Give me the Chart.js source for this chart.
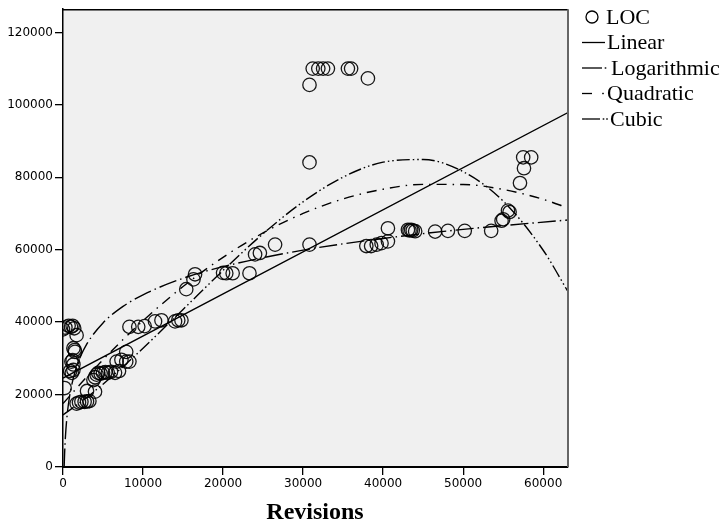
<!DOCTYPE html>
<html lang="en">
<head>
    <meta charset="UTF-8">
    <title>LOC vs Revisions</title>
    <style>
        html, body { margin: 0; padding: 0; background: #fff; }
        #wrap { width: 720px; height: 526px; }
    </style>
</head>
<body>
    <div id="wrap"><canvas id="myChart" width="720" height="526"></canvas></div>

    <script src="https://cdn.jsdelivr.net/npm/chart.js"></script>
    <script>
        // observed points (Revisions, LOC)
        const revisions = [0, 300, 700, 1000, 1200, 1400, 1700, 1300, 1450, 1500, 1050, 1300, 1200, 900, 1100, 1300, 200,
            1700, 2000, 2300, 2700, 3000, 3300, 3000, 4000,
            3800, 4000, 4200, 4400, 4700, 5000, 5300, 5600, 6000, 6500, 7000,
            6700, 7300, 7900, 8300, 7900,
            8300, 9400, 10200, 11500, 12300, 14000, 14400, 14800,
            15400, 16300, 16500, 20000, 20400, 21200, 23300, 24000, 24600, 26500,
            30800, 30800, 30800, 31200, 31900, 32500, 33100, 35600, 36000, 38100,
            37900, 38500, 39200, 39800, 40600, 40600,
            43100, 43300, 43500, 43700, 44000, 46500, 48100, 50200, 53500,
            54800, 55000, 55600, 55800, 57100, 57600, 57500, 58500];
        const loc = [38000, 38500, 39000, 38700, 39000, 38300, 36400, 32800, 32300, 31800, 29100, 28300, 29500, 26500, 26000, 26800, 21800,
            17500, 17800, 18000, 18000, 18100, 18200, 21000, 20800,
            24000, 24800, 25500, 26000, 25800, 26000, 26200, 26000, 26300, 26000, 26500,
            29100, 29600, 29100, 29100, 31800,
            38700, 38700, 38900, 40200, 40500, 40200, 40500, 40500,
            49100, 51800, 53200, 53600, 53500, 53500, 53500, 58700, 59100, 61400,
            61400, 84100, 105500, 110000, 110000, 110000, 110000, 110000, 110000, 107300,
            61000, 61000, 61400, 61800, 62300, 65900,
            65500, 65300, 65500, 65300, 65100, 65000, 65200, 65200, 65200,
            68000, 68400, 70800, 70400, 78400, 82500, 85500, 85500];

        // fitted curves
        const linearX = [0, 63100];
        const linearY = [24550, 97860];
        const logX = [145, 200, 300, 500, 750, 1000, 1500, 2000, 3000, 5000, 7500, 10000, 15000, 20000, 30000, 40000, 50000, 63100];
        const logY = [60, 3660, 8215, 13950, 18500, 21720, 26270, 29500, 34040, 39770, 44330, 47550, 52100, 55320, 59880, 63100, 65610, 68210];
        const fitX = [0, 2500, 5000, 7500, 10000, 15000, 20000, 25000, 30000, 35000, 40000, 45000, 50000, 55000, 60000, 63100];
        const quadY = [17500, 23730, 29630, 35180, 40400, 49830, 57900, 64630, 70000, 74030, 76700, 78030, 78000, 76630, 73900, 71530];
        const cubicY = [14390, 18400, 22870, 27700, 32810, 43500, 54260, 64400, 73220, 80040, 84160, 84890, 81540, 73430, 59850, 48390];

        const xTicks = [0, 10000, 20000, 30000, 40000, 50000, 60000];
        const yTicks = [0, 20000, 40000, 60000, 80000, 100000, 120000];

        function pairs(xs, ys) {
            return xs.map(function (x, i) { return { x: x, y: ys[i] }; });
        }

        const legendRows = [17, 42.5, 68, 93.5, 119];

        const framePlugin = {
            id: 'frame',
            beforeDraw: function (chart) {
                const a = chart.chartArea, c = chart.ctx;
                c.save();
                c.fillStyle = '#f0f0f0';
                c.fillRect(a.left, a.top, a.right - a.left, a.bottom - a.top);
                c.restore();
            },
            afterDraw: function (chart) {
                const a = chart.chartArea, c = chart.ctx;
                c.save();
                c.lineWidth = 1.5;
                c.strokeStyle = '#000';
                c.beginPath(); c.moveTo(a.left, a.top + 0.5); c.lineTo(a.right, a.top + 0.5); c.stroke();
                c.strokeStyle = '#666';
                c.lineWidth = 2;
                c.beginPath(); c.moveTo(a.right, a.top); c.lineTo(a.right, a.bottom); c.stroke();

                // axis title
                c.fillStyle = '#000';
                c.font = 'bold 24px "Liberation Serif"';
                c.textAlign = 'center';
                c.textBaseline = 'alphabetic';
                c.fillText('Revisions', 315, 519);

                // legend
                c.font = '22px "Liberation Serif"';
                c.textAlign = 'left';
                c.textBaseline = 'middle';
                c.strokeStyle = '#000';
                c.lineWidth = 1.3;
                const ds = chart.data.datasets;
                const y0 = legendRows[0];
                c.beginPath(); c.arc(592, y0, 6, 0, Math.PI * 2); c.stroke();
                c.fillText(ds[0].label, 606, y0 + 1);

                // sample segments and dots for each fit line
                const samples = [
                    { seg: [[582, 605]], dots: [], tx: 607 },
                    { seg: [[582, 602]], dots: [605.5], tx: 611 },
                    { seg: [[582, 592]], dots: [603], tx: 607 },
                    { seg: [[582, 600]], dots: [603.5, 607], tx: 610 }
                ];
                samples.forEach(function (s, i) {
                    const yy = legendRows[i + 1];
                    c.beginPath();
                    s.seg.forEach(function (g) { c.moveTo(g[0], yy); c.lineTo(g[1], yy); });
                    c.stroke();
                    s.dots.forEach(function (d) { c.fillRect(d - 0.8, yy - 0.7, 1.6, 1.4); });
                    c.fillText(ds[i + 1].label, s.tx, yy + 1);
                });
                c.restore();
            }
        };

        const lineBase = { type: 'line', showLine: true, pointRadius: 0, borderColor: '#000', borderWidth: 1.4, fill: false, clip: 0, cubicInterpolationMode: 'monotone' };

        const ctx = document.getElementById('myChart');
        const myChart = new Chart(ctx, {
            type: 'scatter',
            data: {
                datasets: [{
                    label: 'LOC',
                    data: pairs(revisions, loc),
                    pointStyle: 'circle',
                    pointRadius: 6.7,
                    borderColor: 'rgba(0,0,0,0.9)',
                    borderWidth: 1.3,
                    backgroundColor: 'rgba(0,0,0,0)',
                    clip: 0,
                    order: 0
                },
                Object.assign({}, lineBase, { label: 'Linear', data: pairs(linearX, linearY) }),
                Object.assign({}, lineBase, { label: 'Logarithmic', data: pairs(logX, logY), borderDash: [18, 4, 1.5, 4] }),
                Object.assign({}, lineBase, { label: 'Quadratic', data: pairs(fitX, quadY), borderDash: [10, 6, 1.5, 6] }),
                Object.assign({}, lineBase, { label: 'Cubic', data: pairs(fitX, cubicY), borderDash: [13, 3, 1.5, 3, 1.5, 3] })
                ]
            },
            options: {
                responsive: false,
                animation: false,
                layout: { padding: { top: 3, right: 152, left: 0, bottom: 0 } },
                plugins: { legend: { display: false }, tooltip: { enabled: false } },
                scales: {
                    x: {
                        type: 'linear', min: 0, max: 63100,
                        afterFit: function (s) { s.height = 59; },
                        afterBuildTicks: function (s) { s.ticks = xTicks.map(function (v) { return { value: v }; }); },
                        grid: { drawOnChartArea: false, tickLength: 8, color: '#000', lineWidth: 1.3 },
                        border: { display: true, color: '#000', width: 2 },
                        ticks: { color: '#000', padding: 2, maxRotation: 0, font: { family: 'DejaVu Sans', size: 12 }, callback: function (v) { return String(v); } }
                    },
                    y: {
                        type: 'linear', min: 0, max: 126400,
                        afterFit: function (s) { s.width = 63; },
                        afterBuildTicks: function (s) { s.ticks = yTicks.map(function (v) { return { value: v }; }); },
                        grid: { drawOnChartArea: false, tickLength: 8, color: '#000', lineWidth: 1.3 },
                        border: { display: true, color: '#000', width: 1.5 },
                        ticks: { color: '#000', padding: 2, font: { family: 'DejaVu Sans', size: 12 }, callback: function (v) { return String(v); } }
                    }
                }
            },
            plugins: [framePlugin]
        });
    </script>
</body>
</html>
